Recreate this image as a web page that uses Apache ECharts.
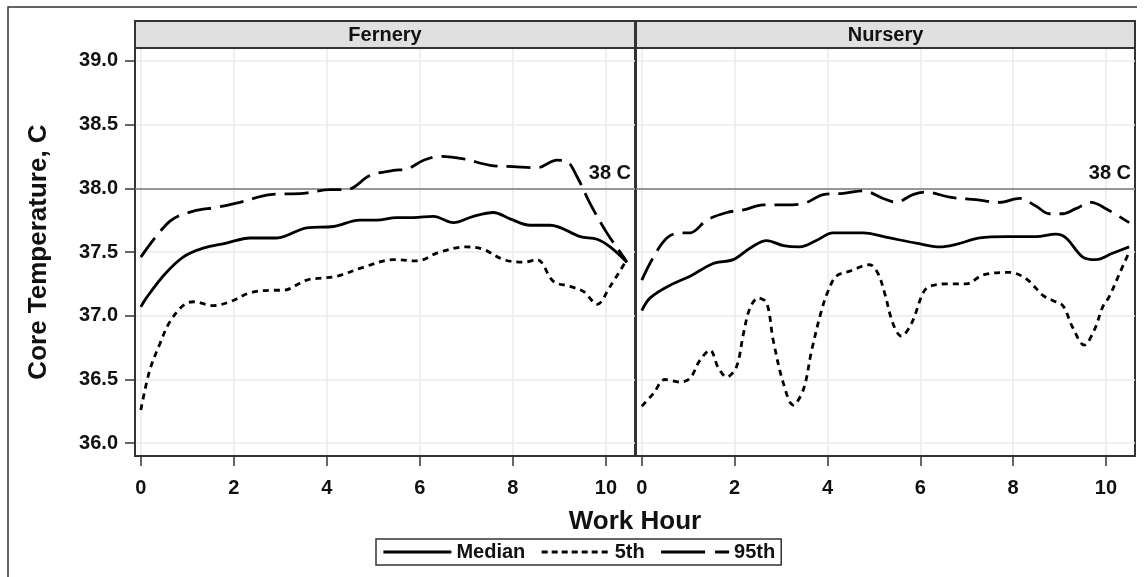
<!DOCTYPE html>
<html>
<head>
<meta charset="utf-8">
<script src="https://cdn.jsdelivr.net/npm/echarts@6/dist/echarts.min.js"></script>
<style>html,body{margin:0;padding:0;background:#fff}#c{width:1146px;height:577px}</style>
</head>
<body>
<div id="c"></div>
<script>
// ---- data ----
const panels = ['Fernery', 'Nursery'];
const seriesNames = ['Median', '5th', '95th'];
const hourTicks = [0, 2, 4, 6, 8, 10];
const tempTicks = [36.0, 36.5, 37.0, 37.5, 38.0, 38.5, 39.0];
const refTemp = 38;
const refLabel = '38 C';

const ferneryMedian = [[0,37.07],[0.12,37.14],[0.5,37.32],[0.91,37.46],[1.34,37.53],[1.84,37.57],[2.35,37.61],[2.92,37.61],[3.57,37.69],[4.14,37.70],[4.71,37.75],[5.07,37.75],[5.5,37.77],[5.86,37.77],[6.29,37.78],[6.72,37.73],[7.15,37.78],[7.58,37.81],[7.94,37.76],[8.37,37.71],[8.8,37.71],[9.45,37.62],[9.81,37.60],[10.09,37.54],[10.45,37.42]];
const fernery5th = [[0,36.26],[0.19,36.57],[0.41,36.78],[0.62,36.95],[0.91,37.08],[1.13,37.11],[1.56,37.08],[1.92,37.11],[2.35,37.18],[2.85,37.20],[3.06,37.20],[3.57,37.28],[4.21,37.31],[4.78,37.38],[5.43,37.44],[5.93,37.43],[6.43,37.50],[7.01,37.54],[7.37,37.52],[7.8,37.44],[8.23,37.42],[8.52,37.44],[8.87,37.27],[9.23,37.23],[9.52,37.19],[9.81,37.09],[10.09,37.23],[10.45,37.44]];
const fernery95th = [[0,37.46],[0.62,37.74],[1.13,37.82],[1.63,37.85],[2.13,37.89],[2.78,37.95],[3.49,37.96],[4.07,37.99],[4.43,37.99],[4.93,38.10],[5.43,38.14],[5.72,38.15],[6.08,38.22],[6.43,38.25],[6.94,38.23],[7.51,38.18],[8.01,38.17],[8.51,38.16],[8.95,38.22],[9.16,38.21],[9.38,38.09],[9.66,37.88],[10.02,37.65],[10.38,37.46],[10.45,37.42]];

const nurseryMedian = [[0,37.04],[0.18,37.14],[0.61,37.24],[1.04,37.31],[1.54,37.41],[1.97,37.44],[2.33,37.53],[2.69,37.59],[3.05,37.55],[3.4,37.54],[3.76,37.59],[4.12,37.65],[4.77,37.65],[5.34,37.61],[5.91,37.57],[6.42,37.54],[6.77,37.56],[7.28,37.61],[7.85,37.62],[8.49,37.62],[8.92,37.64],[9.14,37.61],[9.5,37.46],[9.78,37.44],[10.14,37.49],[10.5,37.54]];
const nursery5th = [[0,36.29],[0.25,36.39],[0.5,36.50],[0.82,36.48],[1.04,36.51],[1.25,36.65],[1.47,36.73],[1.65,36.59],[1.83,36.52],[2.04,36.60],[2.19,36.86],[2.33,37.06],[2.51,37.14],[2.69,37.10],[2.83,36.81],[3.05,36.47],[3.26,36.30],[3.48,36.42],[3.66,36.73],[3.87,37.04],[4.01,37.19],[4.19,37.31],[4.48,37.35],[4.91,37.40],[5.09,37.33],[5.23,37.18],[5.41,36.94],[5.59,36.84],[5.81,36.94],[6.06,37.18],[6.2,37.23],[6.56,37.25],[6.99,37.25],[7.35,37.32],[7.92,37.34],[8.28,37.29],[8.64,37.16],[8.85,37.12],[9.07,37.08],[9.28,36.91],[9.53,36.77],[9.75,36.89],[9.93,37.07],[10.07,37.15],[10.29,37.33],[10.5,37.50]];
const nursery95th = [[0,37.28],[0.25,37.46],[0.54,37.61],[0.82,37.65],[1.04,37.65],[1.4,37.75],[1.83,37.81],[2.19,37.83],[2.62,37.87],[3.05,37.87],[3.48,37.88],[3.91,37.95],[4.34,37.96],[4.77,37.98],[5.2,37.92],[5.48,37.89],[5.84,37.95],[6.13,37.97],[6.63,37.93],[7.2,37.91],[7.71,37.89],[8.14,37.92],[8.49,37.86],[8.78,37.80],[9.07,37.80],[9.35,37.84],[9.68,37.89],[10.0,37.84],[10.5,37.73]];

const panelData = [
  [ferneryMedian, fernery5th, fernery95th],
  [nurseryMedian, nursery5th, nursery95th]
];

// ---- styling ----
const FONT = '"Liberation Sans", Arial, sans-serif';
const dashTypes = ['solid', [6, 5], [24, 9]];
const legendDash = ['solid', [6, 4], [44, 10]];
const gridBoxes = [{left: 135, width: 500}, {left: 636, width: 499}];
const GRID_TOP = 48, GRID_H = 408;

const chart = echarts.init(document.getElementById('c'), null, {renderer: 'canvas'});

const grids = gridBoxes.map(g => ({
  left: g.left, top: GRID_TOP, width: g.width, height: GRID_H,
  show: true, borderColor: '#333', borderWidth: 2, backgroundColor: 'transparent'
}));

const xAxes = gridBoxes.map((g, i) => ({
  type: 'value', gridIndex: i, min: -0.125, max: 10.625,
  axisLine: {show: true, onZero: false, lineStyle: {color: '#333', width: 2}},
  axisTick: {show: true, length: 10, customValues: hourTicks, lineStyle: {color: '#333', width: 1.5}},
  axisLabel: {customValues: hourTicks, margin: 22, color: '#111', fontSize: 20, fontWeight: 'bold', fontFamily: FONT},
  splitLine: {show: true, lineStyle: {color: '#ebebeb', width: 1.5}}
}));

const yAxes = gridBoxes.map((g, i) => ({
  type: 'value', gridIndex: i, min: 35.9, max: 39.1,
  axisLine: {show: true, onZero: false, lineStyle: {color: '#333', width: 2}},
  axisTick: {show: i === 0, length: 10, customValues: tempTicks, lineStyle: {color: '#333', width: 1.5}},
  axisLabel: {show: i === 0, customValues: tempTicks, margin: 17, formatter: v => v.toFixed(1),
    color: '#111', fontSize: 20, fontWeight: 'bold', fontFamily: FONT},
  splitLine: {show: true, lineStyle: {color: '#ebebeb', width: 1.5}},
  name: i === 0 ? 'Core Temperature, C' : '',
  nameLocation: 'middle', nameGap: 83,
  nameTextStyle: {color: '#111', fontSize: 26, fontWeight: 'bold', fontFamily: FONT}
}));

const series = [];
panelData.forEach((sets, p) => {
  sets.forEach((d, s) => {
    const ser = {
      name: seriesNames[s], type: 'line', xAxisIndex: p, yAxisIndex: p,
      data: d, smooth: 0.35, symbol: 'none', showSymbol: false,
      lineStyle: {color: '#000', width: 2.8, type: dashTypes[s]},
      itemStyle: {color: '#000'}, z: 5
    };
    if (s === 0) {
      ser.markLine = {
        silent: true, symbol: 'none',
        lineStyle: {color: '#7a7a7a', width: 1.5, type: 'solid'},
        label: {show: true, position: 'insideEndTop', formatter: refLabel, distance: [4, 5],
          color: '#111', fontSize: 20, fontWeight: 'bold', fontFamily: FONT},
        data: [{yAxis: refTemp}]
      };
    }
    series.push(ser);
  });
});

const graphics = [
  {type: 'polyline', shape: {points: [[8, 577], [8, 7], [1137, 7]]}, style: {stroke: '#333', lineWidth: 1.5, fill: null}, silent: true}
];
gridBoxes.forEach((g, i) => {
  graphics.push({type: 'rect', shape: {x: g.left, y: 21, width: g.width, height: 27},
    style: {fill: '#e0e0e0', stroke: '#333', lineWidth: 2}, silent: true, z: 10});
  graphics.push({type: 'text', x: g.left + g.width / 2, y: 35,
    style: {text: panels[i], textAlign: 'center', textVerticalAlign: 'middle',
      font: 'bold 20px ' + FONT, fill: '#111'}, silent: true, z: 11});
});
graphics.push({type: 'text', x: 635, y: 522,
  style: {text: 'Work Hour', textAlign: 'center', textVerticalAlign: 'middle',
    font: 'bold 26px ' + FONT, fill: '#111'}, silent: true});

chart.setOption({
  backgroundColor: '#fff',
  animation: false,
  grid: grids,
  xAxis: xAxes,
  yAxis: yAxes,
  legend: {
    left: 376, top: 539, orient: 'horizontal',
    itemWidth: 68, itemHeight: 14, itemGap: 15,
    padding: [3, 6, 3, 6],
    borderColor: '#333', borderWidth: 1.5, backgroundColor: '#fff',
    textStyle: {color: '#111', fontSize: 20, fontWeight: 'bold', fontFamily: FONT},
    itemStyle: {opacity: 0, color: 'rgba(0,0,0,0)', borderColor: 'rgba(0,0,0,0)', borderWidth: 0},
    data: seriesNames.map((n, i) => ({
      name: n,
      lineStyle: {type: legendDash[i], width: 2.8, color: '#000'},
      itemStyle: {opacity: 0, color: 'rgba(0,0,0,0)', borderColor: 'rgba(0,0,0,0)', borderWidth: 0}
    })),
    selectedMode: false
  },
  graphic: graphics,
  series: series
});
</script>
</body>
</html>
